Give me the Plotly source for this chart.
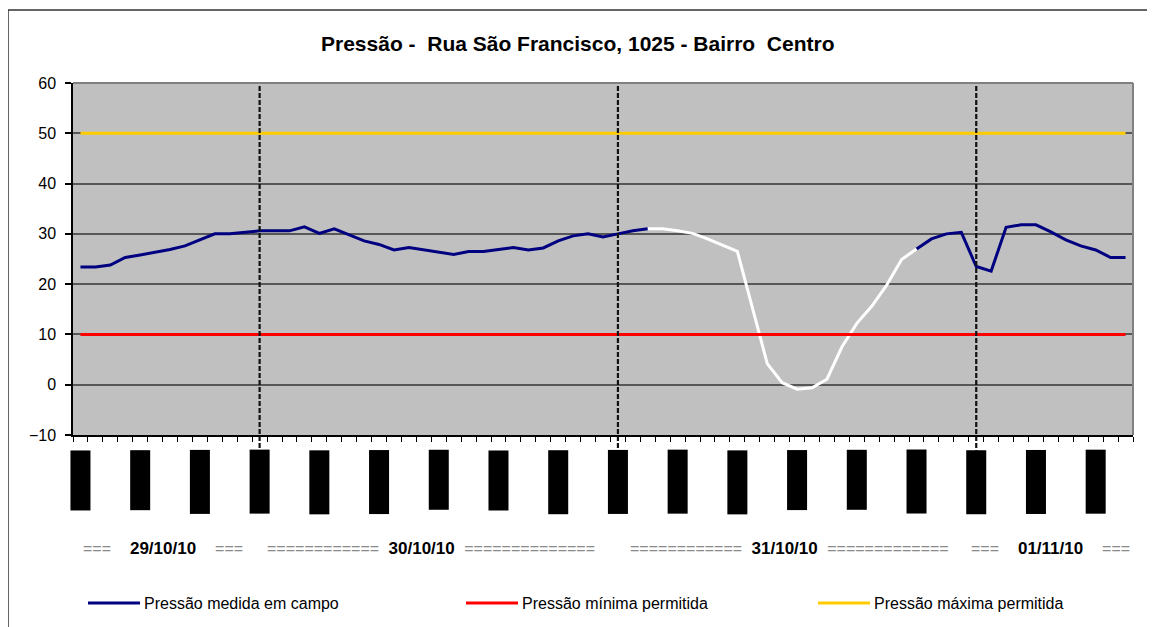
import plotly.graph_objects as go

# ---------------- data ----------------
titulo = "Pressão -\u00a0\u00a0Rua São Francisco, 1025 - Bairro\u00a0\u00a0Centro"

dias = ["29/10/10", "30/10/10", "31/10/10", "01/11/10"]
horas_por_dia = [12, 24, 24, 11]           # hourly readings per day
primeira_hora = [12, 0, 0, 0]

pressao_medida = [
    23.4, 23.4, 23.8, 25.3, 25.8, 26.3, 26.9, 27.6, 28.8, 30.0, 30.0, 30.3,
    30.6, 30.6, 30.6, 31.4, 30.1, 31.0, 29.8, 28.6, 27.9, 26.8, 27.3, 26.8,
    26.3, 25.9, 26.5, 26.5, 26.9, 27.3, 26.8, 27.2, 28.6, 29.6, 30.0, 29.4,
    30.0, 30.6, 31.0, 31.0, 30.6, 30.1, 29.0, 27.8, 26.5, 15.4, 4.2, 0.4,
    -0.9, -0.6, 1.1, 7.5, 12.2, 15.6, 19.8, 24.9, 27.0, 29.0, 30.0, 30.3,
    23.5, 22.6, 31.3, 31.8, 31.8, 30.4, 28.8, 27.6, 26.8, 25.3, 25.3,
]
trecho_branco = (38, 56)          # stretch drawn in white
pressao_minima = 10
pressao_maxima = 50

filetes = [(3, 3), (12, 14), (12, 13), (3, 3)]   # "=" fillers around each date

legenda = ["Pressão medida em campo", "Pressão mínima permitida", "Pressão máxima permitida"]

# ---------------- categories ----------------
horas = []
for d, n, h0 in zip(dias, horas_por_dia, primeira_hora):
    for k in range(n):
        horas.append(f"{d} {h0 + k:02d}:00")
n_pts = len(horas)

azul = "#000080"
vermelho = "#ff0000"
amarelo = "#ffcc00"
FONT = "Liberation Sans, Arial, sans-serif"

OFF = 8                      # page body margin
W, H = 1155 - OFF, 627 - OFF
L, T = 73 - OFF, 83 - OFF
R = W - (1133 - OFF)
B = H - (435 - OFF)
pw, ph = W - L - R, H - T - B


def px_x(px):          # reference screen px -> paper x
    return (px - OFF - L) / pw


def px_y(py):          # reference screen px -> paper y
    return (H - B - (py - OFF)) / ph


medida_azul = [v if not (trecho_branco[0] < i < trecho_branco[1]) else None
               for i, v in enumerate(pressao_medida)]
medida_branca = [v if trecho_branco[0] <= i <= trecho_branco[1] else None
                 for i, v in enumerate(pressao_medida)]

fig = go.Figure()
fig.add_trace(go.Scatter(x=horas, y=medida_azul, mode="lines", name=legenda[0],
                         line=dict(color=azul, width=3), connectgaps=False, showlegend=False))
fig.add_trace(go.Scatter(x=horas, y=medida_branca, mode="lines", name="trecho",
                         line=dict(color="#ffffff", width=3), connectgaps=False, showlegend=False))
fig.add_trace(go.Scatter(x=horas, y=[pressao_minima] * n_pts, mode="lines", name=legenda[1],
                         line=dict(color=vermelho, width=3), showlegend=False))
fig.add_trace(go.Scatter(x=horas, y=[pressao_maxima] * n_pts, mode="lines", name=legenda[2],
                         line=dict(color=amarelo, width=3), showlegend=False))

shapes = []
annotations = []

# day separators (at the midnight reading)
inicio = 0
inicios = []
for n in horas_por_dia:
    inicios.append(inicio)
    inicio += n
for s in inicios[1:]:
    shapes.append(dict(type="line", xref="x", yref="paper", x0=s, x1=s,
                       y0=px_y(455), y1=1, line=dict(color="#111111", width=2.2, dash="5px,2px")))

# plot border top/right
shapes.append(dict(type="line", xref="paper", yref="paper", x0=0, x1=1, y0=1, y1=1,
                   line=dict(color="#808080", width=2)))
shapes.append(dict(type="line", xref="paper", yref="paper", x0=1, x1=1, y0=0, y1=1,
                   line=dict(color="#808080", width=2)))
# outer chart frame
shapes.append(dict(type="rect", xref="paper", yref="paper", x0=px_x(8), x1=px_x(1175),
                   y0=px_y(650), y1=px_y(10), line=dict(color="#333333", width=1.5)))

# hour labels (rendered as solid blocks, as in the reference)
for i in range(0, n_pts, 4):
    rot = horas[i].split(" ")[1]
    curto = rot in ("12:00", "16:00")
    annotations.append(dict(x=i, y=px_y(450), xref="x", yref="paper", text=rot,
                            showarrow=False, textangle=-90, xanchor="center", yanchor="top",
                            width=60 if curto else 64, height=20, bgcolor="black",
                            borderpad=0, borderwidth=0,
                            font=dict(family=FONT, size=12, color="black")))

# day labels
sp = "\u00a0"
for d, s, n, (a, b) in zip(dias, inicios, horas_por_dia, filetes):
    meio = (s - 0.5 + s + n - 0.5) / 2
    gap = 2 if a > 3 else 4
    txt = (f'<span style="color:#8a8a8a;font-size:16px">{"=" * a}</span>{sp * gap}<b>{d}</b>{sp * gap}'
           f'<span style="color:#8a8a8a;font-size:16px">{"=" * b}</span>')
    annotations.append(dict(x=meio, y=px_y(548), xref="x", yref="paper", text=txt,
                            showarrow=False, xanchor="center", yanchor="middle",
                            font=dict(family=FONT, size=17, color="black")))

# manual legend
leg_x = [88, 466, 818]
for nome, cor, x0 in zip(legenda, [azul, vermelho, amarelo], leg_x):
    shapes.append(dict(type="line", xref="paper", yref="paper", x0=px_x(x0), x1=px_x(x0 + 52),
                       y0=px_y(603), y1=px_y(603), line=dict(color=cor, width=3)))
    annotations.append(dict(x=px_x(x0 + 54), y=px_y(603), xref="paper", yref="paper", text=nome,
                            showarrow=False, xanchor="left", yanchor="middle",
                            font=dict(family=FONT, size=16, color="black")))

# title
annotations.append(dict(x=px_x(577.5), y=px_y(43), xref="paper", yref="paper",
                        text=f"<b>{titulo}</b>", showarrow=False, xanchor="center",
                        yanchor="middle", font=dict(family=FONT, size=21, color="black")))

fig.update_layout(
    width=W, height=H,
    margin=dict(l=L, r=R, t=T, b=B, autoexpand=False),
    paper_bgcolor="white", plot_bgcolor="#c0c0c0",
    shapes=shapes, annotations=annotations,
    showlegend=False,
)
fig.update_xaxes(type="category", range=[-0.5, n_pts - 0.5], tickmode="linear", tick0=0, dtick=1,
                 tickson="boundaries", ticks="outside", ticklen=5, tickwidth=1, tickcolor="black",
                 showticklabels=False, showgrid=False, zeroline=False,
                 showline=True, linecolor="black", linewidth=1.5)
fig.update_yaxes(range=[-10, 60], tickmode="linear", tick0=-10, dtick=10,
                 ticks="outside", ticklen=6, tickwidth=1.5, tickcolor="black",
                 tickfont=dict(family=FONT, size=16, color="black"), ticklabelstandoff=6,
                 showgrid=True, gridcolor="#575757", gridwidth=1.5, zeroline=False,
                 showline=True, linecolor="black", linewidth=1.5)

fig.write_html("out.html")
